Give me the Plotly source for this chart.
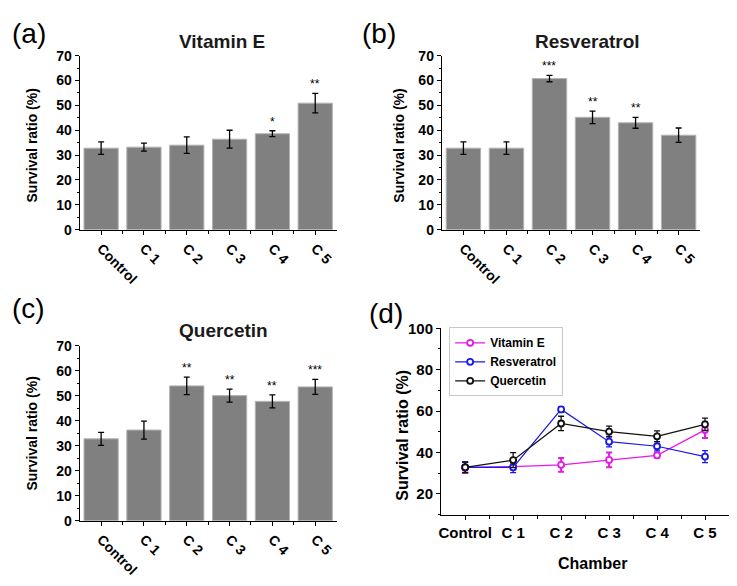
import plotly.graph_objects as go

# ---------------- data ----------------
categories = ["Control", "C 1", "C 2", "C 3", "C 4", "C 5"]
vitE = [32.8, 33.2, 34.0, 36.4, 38.6, 50.9]
vitE_err = [2.5, 1.6, 3.3, 3.6, 1.2, 3.9]
resv = [32.8, 32.8, 60.8, 45.2, 43.0, 38.0]
resv_err = [2.5, 2.5, 1.3, 2.5, 2.2, 2.9]
quer = [32.8, 36.3, 54.0, 50.1, 47.8, 53.6]
quer_err = [2.6, 3.6, 3.5, 2.6, 2.6, 3.0]
vitE_sig = ["", "", "", "", "*", "**"]
resv_sig = ["", "", "***", "**", "**", ""]
quer_sig = ["", "", "**", "**", "**", "***"]
panel_titles = ["Vitamin E", "Resveratrol", "Quercetin"]
panel_labels = ["(a)", "(b)", "(c)", "(d)"]
series_names = ["Vitamin E", "Resveratrol", "Quercetin"]
y_title = "Survival ratio (%)"
x_title_d = "Chamber"

# page body has an 8px margin, so the figure is drawn 8px in from the corner
OFF = 8
W, H = 737 - 2 * OFF, 586 - 2 * OFF
FONT = "Arial, 'Liberation Sans', sans-serif"
xpos = list(range(len(categories)))


def px(x):
    return (x - OFF) / W


def py(y):
    return 1 - (y - OFF) / H


fig = go.Figure()

bar_sets = [
    (vitE, vitE_err, vitE_sig, "x", "y"),
    (resv, resv_err, resv_sig, "x2", "y2"),
    (quer, quer_err, quer_sig, "x3", "y3"),
]
annotations = []
for vals, errs, sig, xa, ya in bar_sets:
    fig.add_trace(go.Bar(
        x=xpos, y=vals, width=0.8, xaxis=xa, yaxis=ya, showlegend=False,
        marker=dict(color="#808080", line=dict(color="#b4b4b4", width=1)),
        error_y=dict(type="data", array=errs, color="black", thickness=1.3, width=3),
    ))
    for xi, v, e, s in zip(xpos, vals, errs, sig):
        if s:
            annotations.append(dict(
                x=xi, y=v + e, xref=xa, yref=ya, text=s, showarrow=False,
                yanchor="bottom", yshift=0,
                font=dict(family=FONT, size=12, color="black"),
            ))

line_colors = ["#e619e6", "#1a1ae6", "#111111"]
for name, vals, errs, col, ew in zip(series_names, [vitE, resv, quer],
                                     [vitE_err, resv_err, quer_err], line_colors,
                                     [2.0, 1.3, 1.3]):
    fig.add_trace(go.Scatter(
        x=xpos, y=vals, name=name, mode="lines+markers", xaxis="x4", yaxis="y4",
        line=dict(color=col, width=1.2),
        marker=dict(symbol="circle", size=6, color="white", line=dict(color=col, width=1.8)),
        error_y=dict(type="data", array=errs, color=col, thickness=ew, width=3),
    ))

# axis layout
bar_domains_x = [(px(77), px(335)), (px(440.7), px(700)), (px(77), px(335))]
bar_domains_y = [(py(228), py(48)), (py(228), py(48)), (py(529), py(348.3))]

axis_common = dict(showline=True, linecolor="black", linewidth=1.3, ticks="outside",
                   tickcolor="black", tickwidth=1.2, showgrid=False, zeroline=False,
                   tickfont=dict(family=FONT, size=14, color="black", weight="bold"))

layout = dict(
    width=W, height=H, margin=dict(l=0, r=0, t=0, b=0),
    paper_bgcolor="white", plot_bgcolor="white",
    font=dict(family=FONT, color="black"),
)
for i in range(3):
    sx = "" if i == 0 else str(i + 1)
    layout["xaxis" + sx] = dict(
        axis_common, domain=bar_domains_x[i], anchor="y" + sx, range=[-0.5, 5.5],
        tickmode="array", tickvals=xpos, ticktext=categories, tickangle=45, ticklen=4,
        minor=dict(ticks="outside", tickvals=[0.5, 1.5, 2.5, 3.5, 4.5], ticklen=3,
                   tickcolor="black", tickwidth=1),
    )
    layout["yaxis" + sx] = dict(
        axis_common, domain=bar_domains_y[i], anchor="x" + sx, range=[0, 70],
        tick0=0, dtick=10, ticklen=4,
        minor=dict(ticks="outside", dtick=5, ticklen=2, tickcolor="black", tickwidth=1),
    )

layout["xaxis4"] = dict(
    axis_common, domain=(px(440), 1.0), anchor="y4", range=[-0.5, 5.5],
    tickmode="array", tickvals=xpos, ticktext=categories, tickangle=0, ticklen=4,
    tickfont=dict(family=FONT, size=15, color="black", weight="bold"),
    minor=dict(ticks="outside", tickvals=[0.5, 1.5, 2.5, 3.5, 4.5], ticklen=3,
               tickcolor="black", tickwidth=1),
)
layout["yaxis4"] = dict(
    axis_common, domain=(py(522.7), py(330)), anchor="x4", range=[10, 100],
    tick0=0, dtick=20, ticklen=4,
    tickfont=dict(family=FONT, size=15, color="black", weight="bold"),
    minor=dict(ticks="outside", dtick=10, ticklen=2, tickcolor="black", tickwidth=1),
)
layout["legend"] = dict(
    x=px(448), y=py(329), xanchor="left", yanchor="top",
    bordercolor="#c8c8c8", borderwidth=1, bgcolor="white",
    font=dict(family=FONT, size=12, color="black", weight="bold"),
    itemwidth=30, tracegroupgap=0,
)

# titles
for t, (cx, cy) in zip(panel_titles, [(220, 33), (586.7, 33.5), (221.7, 332)]):
    annotations.append(dict(x=px(cx), y=py(cy), xref="paper", yref="paper", text=t,
                            showarrow=False, xanchor="center", yanchor="middle",
                            font=dict(family=FONT, size=19, color="#1a1a1a", weight="bold")))
# y axis titles
for (cx, cy, sz) in [(29, 141, 14), (396.7, 141, 14), (29, 439, 14), (401.7, 441, 16)]:
    annotations.append(dict(x=px(cx), y=py(cy), xref="paper", yref="paper", text=y_title,
                            showarrow=False, textangle=-90, xanchor="center", yanchor="middle",
                            font=dict(family=FONT, size=sz, color="black", weight="bold")))
annotations.append(dict(x=px(591.7), y=py(573), xref="paper", yref="paper", text=x_title_d,
                        showarrow=False, xanchor="center", yanchor="middle",
                        font=dict(family=FONT, size=16, color="black", weight="bold")))
# panel labels (kept inside the drawable area)
label_pos = [(OFF, OFF, "left", "top"), (359, OFF, "left", "top"),
             (OFF, 310, "left", "middle"), (385, 314.5, "center", "middle")]
for t, (cx, cy, xa, ya) in zip(panel_labels, label_pos):
    annotations.append(dict(x=px(cx), y=py(cy), xref="paper", yref="paper", text=t,
                            showarrow=False, xanchor=xa, yanchor=ya, borderpad=0,
                            font=dict(family=FONT, size=28, color="black")))

layout["annotations"] = annotations
fig.update_layout(**layout)
fig.write_html("out.html")
